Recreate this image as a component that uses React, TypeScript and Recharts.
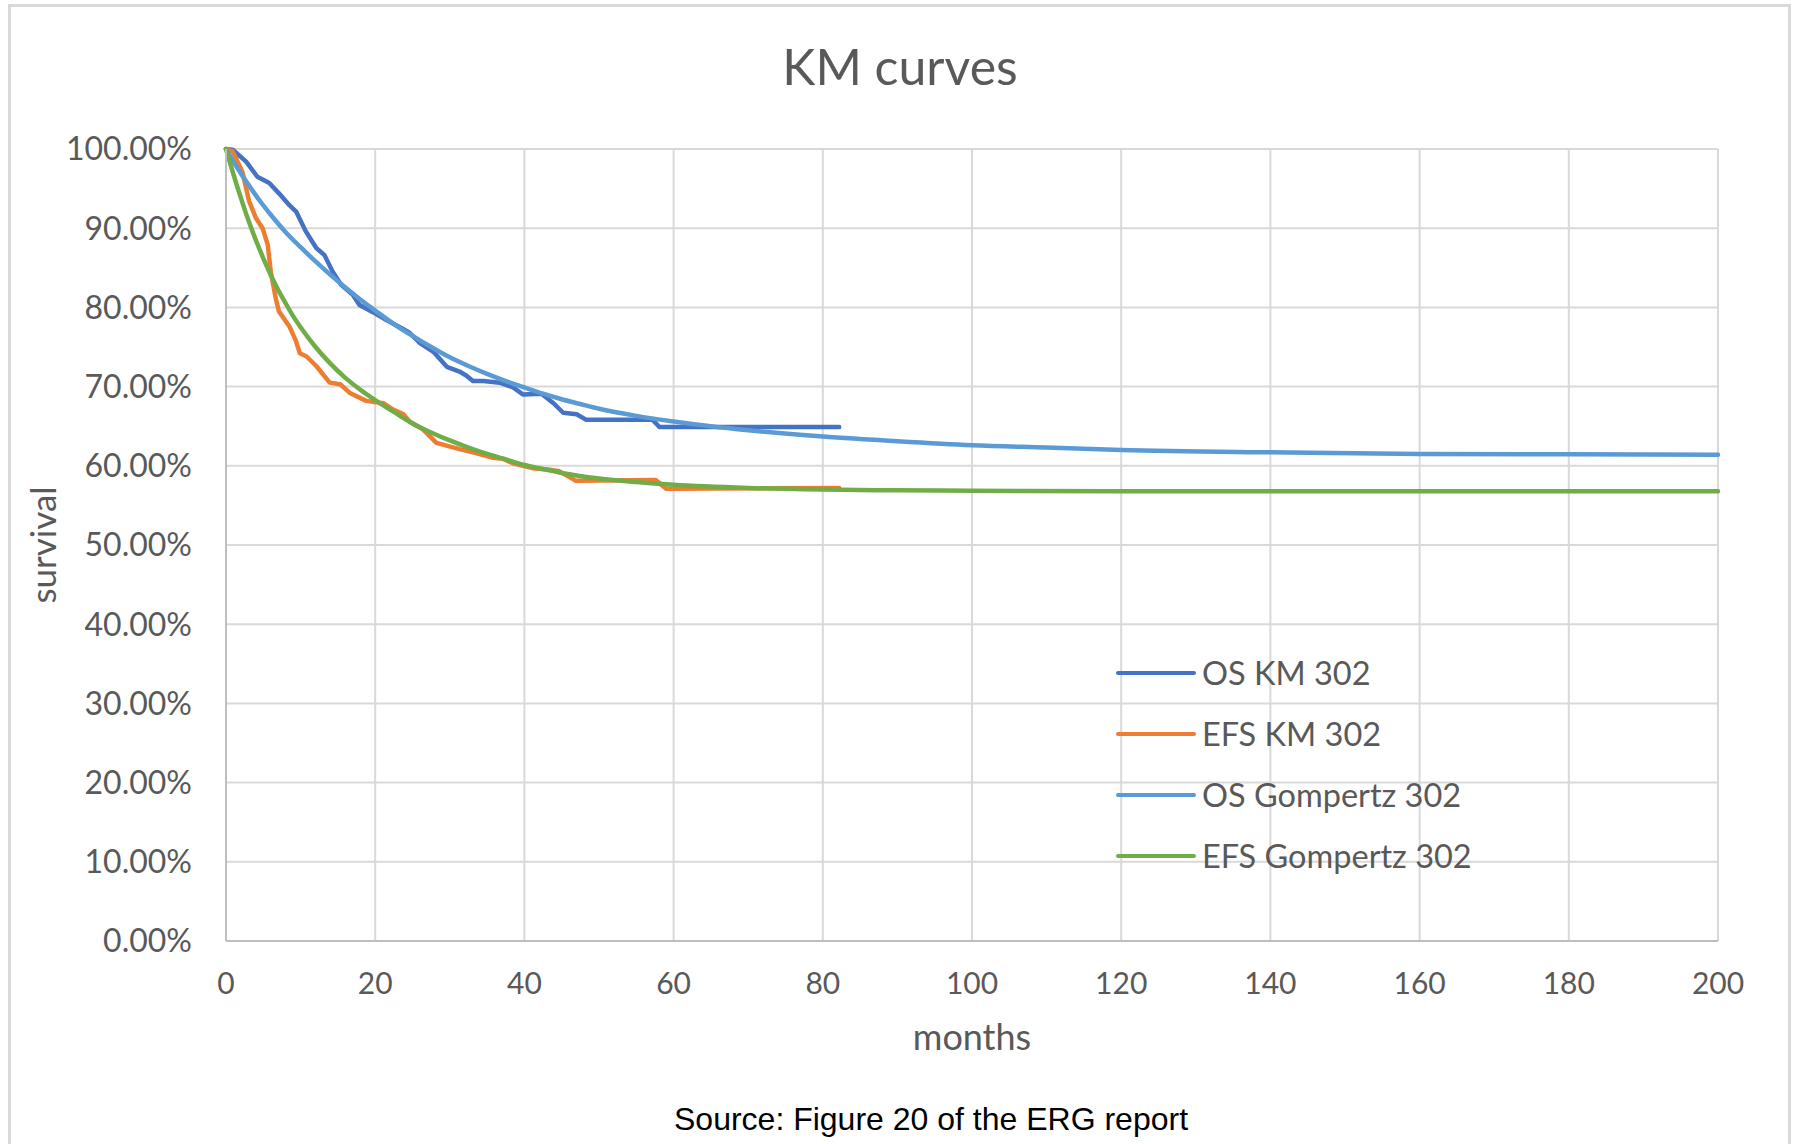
import React from "react"
import { LineChart, Line, XAxis, YAxis, CartesianGrid, Legend, Label } from "recharts"

const xTicks = [0, 20, 40, 60, 80, 100, 120, 140, 160, 180, 200]
const yTicks = [0, 10, 20, 30, 40, 50, 60, 70, 80, 90, 100]

// OS KM 302 (step-like Kaplan-Meier)
const osKmMonths = [0, 0.9, 2.7, 4.2, 5.8, 7.1, 8.5, 9.4, 10.7, 12.1, 13.2, 14.3, 15.4, 17.0, 17.9, 19.7, 21.5, 23.5, 24.6, 26.0, 27.8, 29.6, 31.3, 32.2, 33.1, 34.5, 36.7, 38.5, 39.8, 42.3, 43.9, 45.2, 47.0, 48.3, 57.2, 58.1, 82.2]
const osKmSurvival = [100, 99.9, 98.4, 96.5, 95.7, 94.4, 92.9, 92.1, 89.6, 87.5, 86.6, 84.5, 82.9, 81.6, 80.3, 79.4, 78.4, 77.4, 76.8, 75.5, 74.4, 72.5, 71.9, 71.4, 70.7, 70.7, 70.5, 69.9, 69.0, 69.1, 67.9, 66.7, 66.5, 65.8, 65.8, 64.9, 64.9]

// EFS KM 302
const efsKmMonths = [0, 0.9, 2.2, 3.1, 4.0, 4.9, 5.6, 6.0, 6.7, 7.1, 8.5, 9.4, 9.9, 10.8, 12.1, 13.9, 15.3, 16.6, 18.8, 21.1, 22.4, 23.8, 24.6, 26.4, 28.2, 31.3, 33.5, 35.8, 37.1, 38.5, 39.8, 41.1, 43.4, 44.7, 46.9, 57.6, 59.0, 82.2]
const efsKmSurvival = [100, 99.7, 97.1, 93.4, 91.3, 90.0, 87.9, 84.5, 81.0, 79.5, 77.6, 75.7, 74.2, 73.8, 72.6, 70.5, 70.3, 69.2, 68.2, 67.9, 67.1, 66.5, 65.6, 64.6, 62.9, 62.1, 61.6, 61.0, 60.9, 60.3, 60.0, 59.7, 59.5, 59.3, 58.1, 58.2, 57.1, 57.2]

// OS Gompertz 302 (fitted curve)
const osGompMonths = [0, 1, 2, 3, 4.5, 6, 8, 10, 12, 14, 16, 18, 20, 22.5, 25, 27.5, 30, 32.5, 35, 37.5, 40, 42.5, 45, 47.5, 50, 55, 60, 65, 70, 80, 90, 100, 110, 120, 140, 160, 180, 200]
const osGompSurvival = [100, 98.4, 96.9, 95.5, 93.5, 91.7, 89.5, 87.6, 85.8, 84.1, 82.5, 81.0, 79.6, 77.9, 76.4, 75.0, 73.7, 72.6, 71.6, 70.7, 69.9, 69.1, 68.4, 67.8, 67.2, 66.3, 65.6, 65.0, 64.5, 63.7, 63.1, 62.6, 62.3, 62.0, 61.7, 61.5, 61.45, 61.4]

// EFS Gompertz 302 (fitted curve)
const efsGompMonths = [0, 1, 2, 3, 4, 5, 6, 7, 8, 9, 10, 12, 14, 16, 18, 20, 22.5, 25, 27.5, 30, 32.5, 35, 37.5, 40, 42.5, 45, 50, 55, 60, 70, 80, 90, 100, 120, 150, 200]
const efsGompSurvival = [100, 96.8, 93.8, 91.0, 88.5, 86.2, 84.1, 82.2, 80.5, 78.9, 77.5, 75.0, 72.9, 71.1, 69.6, 68.3, 66.8, 65.35, 64.2, 63.2, 62.3, 61.5, 60.8, 60.1, 59.6, 59.1, 58.4, 57.95, 57.6, 57.2, 57.0, 56.9, 56.85, 56.8, 56.8, 56.8]

const seriesNames = ["OS KM 302", "EFS KM 302", "OS Gompertz 302", "EFS Gompertz 302"]
const seriesColors = ["#4472C4", "#ED7D31", "#5B9BD5", "#70AD47"]

const toPoints = (months: number[], survival: number[]) =>
  months.map((t, i) => ({ t, s: survival[i] }))

const series = [
  { name: seriesNames[0], color: seriesColors[0], data: toPoints(osKmMonths, osKmSurvival), curve: "linear" },
  { name: seriesNames[1], color: seriesColors[1], data: toPoints(efsKmMonths, efsKmSurvival), curve: "linear" },
  { name: seriesNames[2], color: seriesColors[2], data: toPoints(osGompMonths, osGompSurvival), curve: "monotone" },
  { name: seriesNames[3], color: seriesColors[3], data: toPoints(efsGompMonths, efsGompSurvival), curve: "monotone" },
]

const textGrey = "#595959"
const labelFont = "Lato, 'Noto Sans', sans-serif"

function KmLegend(props: any) {
  const payload = [...(props.payload || [])].sort(
    (a: any, b: any) => seriesNames.indexOf(a.value) - seriesNames.indexOf(b.value)
  )
  return (
    <div>
      {payload.map((entry: any) => (
        <div key={entry.value} style={{ display: "flex", alignItems: "center", height: 61 }}>
          <span
            style={{
              display: "inline-block",
              width: 80,
              height: 4,
              borderRadius: 2,
              background: entry.color,
              marginRight: 6,
            }}
          />
          <span style={{ fontFamily: labelFont, fontSize: 32.5, color: textGrey, whiteSpace: "nowrap" }}>
            {entry.value}
          </span>
        </div>
      ))}
    </div>
  )
}

export default function App() {
  return (
    <div
      style={{
        position: "absolute",
        left: 0,
        top: 0,
        width: 1795,
        height: 1144,
        overflow: "hidden",
        background: "#fff",
      }}
    >
      <div
        style={{
          position: "absolute",
          left: 8,
          top: 4,
          width: 1783,
          height: 1200,
          boxSizing: "border-box",
          border: "3px solid #d9d9d9",
        }}
      />
      <div
        style={{
          position: "absolute",
          left: 400,
          top: 41,
          width: 1000,
          textAlign: "center",
          fontFamily: labelFont,
          fontSize: 50,
          lineHeight: "50px",
          color: textGrey,
        }}
      >
        KM curves
      </div>
      <div style={{ position: "absolute", left: 0, top: 0 }}>
        <LineChart
          width={1795}
          height={1144}
          margin={{ top: 149, right: 77, left: 86, bottom: 143 }}
          style={{ fontFamily: labelFont }}
        >
          <CartesianGrid stroke="#d9d9d9" strokeWidth={2} />
          <XAxis
            type="number"
            dataKey="t"
            domain={[0, 200]}
            ticks={xTicks}
            height={60}
            tickLine={false}
            tickSize={0}
            tickMargin={32}
            axisLine={{ stroke: "#bfbfbf", strokeWidth: 2 }}
            tick={{ fill: textGrey, fontSize: 30, fontFamily: labelFont }}
            allowDuplicatedCategory={false}
          >
            <Label
              value="months"
              position="bottom"
              offset={23}
              style={{ fill: textGrey, fontSize: 36, fontFamily: labelFont }}
            />
          </XAxis>
          <YAxis
            type="number"
            domain={[0, 100]}
            ticks={yTicks}
            width={140}
            tickLine={false}
            tickSize={0}
            tickMargin={34}
            axisLine={{ stroke: "#bfbfbf", strokeWidth: 2 }}
            tick={{ fill: textGrey, fontSize: 32, fontFamily: labelFont }}
            tickFormatter={(v: number) => v.toFixed(2) + "%"}
          >
            <Label
              content={(p: any) => {
                const vb = p.viewBox || {}
                const cy = vb.y + vb.height / 2
                return (
                  <text
                    x={42}
                    y={cy}
                    transform={`rotate(-90, 42, ${cy})`}
                    textAnchor="middle"
                    dominantBaseline="central"
                    fill={textGrey}
                    fontSize={35}
                    fontFamily={labelFont}
                  >
                    survival
                  </text>
                )
              }}
            />
          </YAxis>
          <Legend
            layout="vertical"
            align="center"
            verticalAlign="middle"
            content={<KmLegend />}
            wrapperStyle={{ left: 1116, top: 642, width: 420 }}
          />
          {series.map((s) => (
            <Line
              key={s.name}
              name={s.name}
              data={s.data}
              dataKey="s"
              type={s.curve as any}
              stroke={s.color}
              strokeWidth={4.5}
              strokeLinejoin="round"
              strokeLinecap="round"
              dot={false}
              activeDot={false}
              isAnimationActive={false}
            />
          ))}
        </LineChart>
      </div>
      <div
        style={{
          position: "absolute",
          left: 431,
          top: 1103,
          width: 1000,
          textAlign: "center",
          fontFamily: "'Liberation Sans', Arial, sans-serif",
          fontSize: 32,
          lineHeight: "32px",
          color: "#000",
        }}
      >
        Source: Figure 20 of the ERG report
      </div>
    </div>
  )
}
